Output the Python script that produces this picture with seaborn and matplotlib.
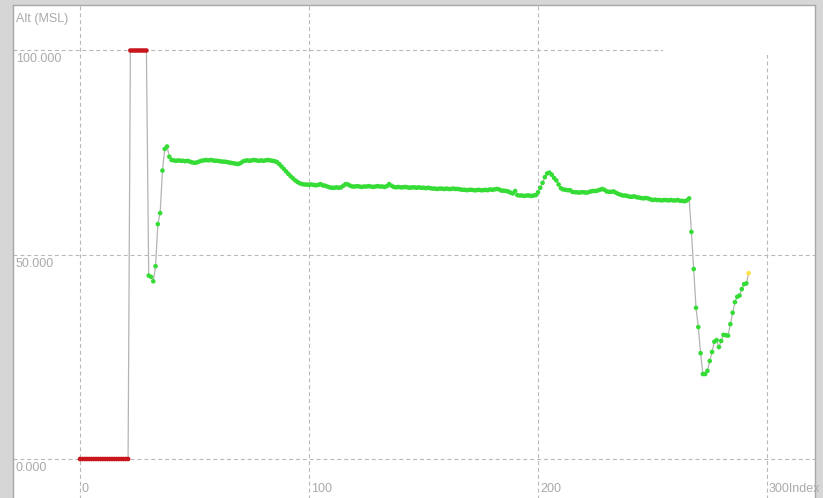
import numpy as np
import pandas as pd
import matplotlib
matplotlib.use("Agg")
import matplotlib.pyplot as plt
import matplotlib.transforms as mtransforms
from matplotlib.patches import Rectangle
import seaborn as sns

# Altitude samples (MSL) by record index
invalid_alt = [0.0, 0.0, 0.0, 0.0, 0.0, 0.0, 0.0, 0.0, 0.0, 0.0,
               0.0, 0.0, 0.0, 0.0, 0.0, 0.0, 0.0, 0.0, 0.0, 0.0,
               0.0, 0.0,
               100.0, 100.0, 100.0, 100.0, 100.0, 100.0, 100.0, 100.0]

flight_alt = [44.9, 44.6, 43.5, 47.2, 57.5, 60.2, 70.6, 75.9, 76.5, 74.0,
              73.2, 73.1, 73.0, 73.1, 73.0, 73.0, 72.9, 73.0, 72.8, 72.6,
              72.5, 72.6, 72.8, 73.0, 73.1, 73.2, 73.1, 73.2, 73.1, 73.0,
              73.0, 72.9, 72.8, 72.8, 72.7, 72.6, 72.5, 72.4, 72.3, 72.2,
              72.4, 72.8, 73.0, 73.1, 73.0, 73.1, 73.2, 73.1, 73.0, 73.1,
              73.0, 73.1, 73.2, 73.1, 73.0, 72.9, 72.7, 72.2, 71.6, 71.0,
              70.4, 69.8, 69.2, 68.7, 68.2, 67.8, 67.5, 67.3, 67.2, 67.2,
              67.1, 67.2, 67.1, 67.0, 67.1, 67.3, 67.0, 66.9, 66.7, 66.5,
              66.4, 66.4, 66.5, 66.4, 66.5, 66.9, 67.3, 67.2, 66.9, 66.7,
              66.7, 66.8, 66.7, 66.6, 66.7, 66.7, 66.8, 66.7, 66.6, 66.7,
              66.8, 66.7, 66.7, 66.6, 66.8, 67.3, 66.9, 66.6, 66.5, 66.6,
              66.5, 66.5, 66.6, 66.5, 66.4, 66.5, 66.5, 66.4, 66.5, 66.4,
              66.4, 66.3, 66.4, 66.3, 66.2, 66.2, 66.1, 66.2, 66.2, 66.1,
              66.2, 66.1, 66.1, 66.2, 66.1, 66.1, 66.0, 65.9, 65.9, 65.8,
              65.9, 65.9, 65.8, 65.8, 65.9, 65.8, 65.8, 65.9, 65.8, 66.0,
              65.9, 66.0, 66.1, 66.0, 65.7, 65.7, 65.6, 65.5, 65.2, 65.0,
              65.6, 64.6, 64.5, 64.5, 64.4, 64.5, 64.5, 64.4, 64.5, 64.6,
              65.3, 66.4, 67.6, 69.0, 69.9, 70.1, 69.6, 68.8, 68.2, 67.2,
              66.3, 66.0, 65.9, 65.8, 65.8, 65.4, 65.3, 65.3, 65.2, 65.3,
              65.3, 65.2, 65.3, 65.5, 65.6, 65.6, 65.7, 65.9, 66.1, 65.9,
              65.5, 65.4, 65.4, 65.5, 65.2, 64.9, 64.7, 64.5, 64.5, 64.4,
              64.2, 64.2, 64.3, 64.1, 64.0, 63.9, 63.8, 63.9, 63.8, 63.6,
              63.4, 63.5, 63.4, 63.4, 63.3, 63.4, 63.4, 63.3, 63.4, 63.3,
              63.3, 63.4, 63.2, 63.2, 63.1, 63.3, 63.8,
              55.6, 46.5, 37.0, 32.3, 25.9, 20.8, 20.8, 21.6, 24.0, 26.2,
              28.7, 29.1, 27.4, 28.9, 30.4, 30.3, 30.2, 33.0, 35.8, 38.4,
              39.7, 40.0, 41.6, 42.8, 43.0, 45.5]

altitude = invalid_alt + flight_alt
status = (["invalid"] * len(invalid_alt)
          + ["valid"] * (len(flight_alt) - 1)
          + ["current"])

x_ticks = [0, 100, 200, 300]
x_tick_labels = ["0", "100", "200", "300Index"]
y_ticks = [0, 50, 100]
y_tick_labels = ["0.000", "50.000", "100.000"]
y_title = "Alt (MSL)"

df = pd.DataFrame({"Index": np.arange(len(altitude)),
                   "Alt": altitude,
                   "status": status})

sns.set_style("white")
plt.rcParams["font.family"] = ["Liberation Sans", "DejaVu Sans"]

W, H = 823, 498
fig = plt.figure(figsize=(W / 100, H / 100), dpi=100)
fig.patch.set_facecolor("#d6d6d6")

# plot panel in pixel space: left 13, right 815, top 5, bottom just past the image edge
AX_L, AX_R, AX_T, AX_B = 13, 815, 5, 500
ax = fig.add_axes([AX_L / W, (H - AX_B) / H, (AX_R - AX_L) / W, (AX_B - AX_T) / H])
ax.set_facecolor("white")

x0_px, px_per_x = 80.0, 2.29
y0_px, px_per_y = 459.0, 4.085
ax.set_xlim((AX_L - x0_px) / px_per_x, (AX_R - x0_px) / px_per_x)
ax.set_ylim((y0_px - AX_B) / px_per_y, (y0_px - AX_T) / px_per_y)

grid_kw = dict(color="#b9b9b9", lw=0.8, linestyle=(0, (3.6, 2.6)), zorder=1)
for xv in x_ticks:
    ax.axvline(xv, **grid_kw)
for yv in y_ticks:
    ax.axhline(yv, **grid_kw)

# blank corner panel at top right
ax.add_patch(Rectangle(((663 - AX_L) / (AX_R - AX_L), (AX_B - 55) / (AX_B - AX_T)),
                       1, 1, transform=ax.transAxes,
                       facecolor="white", edgecolor="none", zorder=1.5))

sns.lineplot(data=df, x="Index", y="Alt", ax=ax, color="#b4b4b4", lw=0.9,
             sort=False, estimator=None, zorder=2)
sns.scatterplot(data=df, x="Index", y="Alt", hue="status", ax=ax,
                palette={"invalid": "#c8161c", "valid": "#36dc36", "current": "#ffe24a"},
                s=11, marker="o", linewidth=0, legend=False, zorder=3)

ax.set_xticks([])
ax.set_yticks([])
ax.set_xlabel("")
ax.set_ylabel("")
for side in ["left", "top", "right"]:
    ax.spines[side].set_color("#a8a8a8")
    ax.spines[side].set_linewidth(1.0)
    ax.spines[side].set_zorder(4)
ax.spines["bottom"].set_visible(False)

txt_kw = dict(color="#aaaaaa", fontsize=9)
title_trans = mtransforms.offset_copy(ax.transAxes, fig=fig, x=3, y=-8, units="dots")
ax.text(0, 1, y_title, transform=title_trans, ha="left", va="top", **txt_kw)

ytrans = mtransforms.offset_copy(
    mtransforms.blended_transform_factory(ax.transAxes, ax.transData),
    fig=fig, x=3, y=-3, units="dots")
for yv, lab in zip(y_ticks, y_tick_labels):
    ax.text(0, yv, lab, transform=ytrans, ha="left", va="top", **txt_kw)

xtrans = mtransforms.offset_copy(ax.transData, fig=fig, x=2, y=0, units="dots")
for xv, lab in zip(x_ticks, x_tick_labels):
    ax.text(xv, (y0_px - 483) / px_per_y, lab, transform=xtrans,
            ha="left", va="top", **txt_kw)

fig.savefig("out.png", dpi=100, facecolor=fig.get_facecolor())
